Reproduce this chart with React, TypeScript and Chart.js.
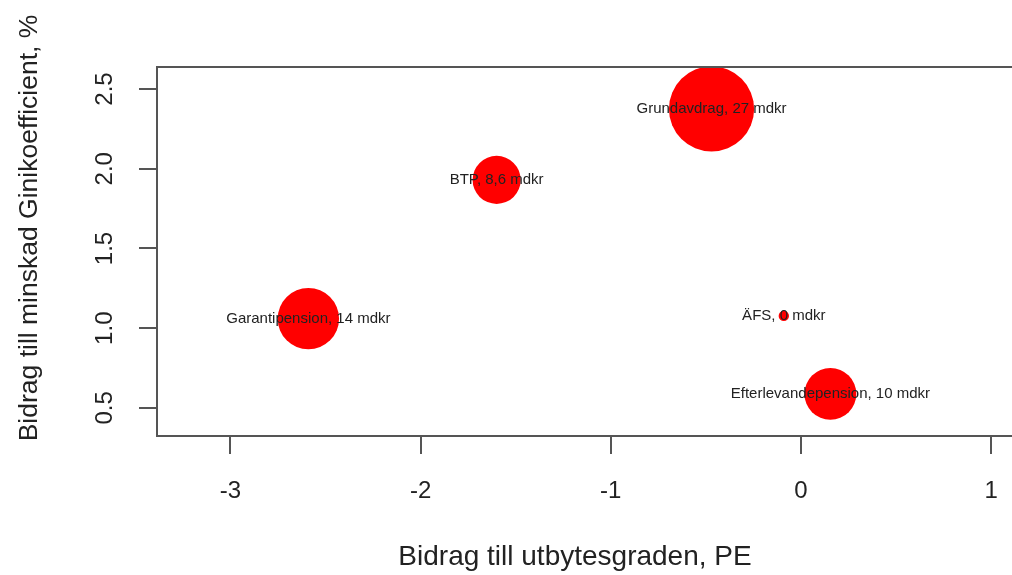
import React, { useEffect, useRef } from "react";
import { Chart, registerables } from "chart.js";

Chart.register(...registerables);

// Data
const programs = [
  "Grundavdrag, 27 mdkr",
  "BTP, 8,6 mdkr",
  "Garantipension, 14 mdkr",
  "ÄFS, 0 mdkr",
  "Efterlevandepension, 10 mdkr",
];
const contributionPE = [-0.47, -1.6, -2.59, -0.09, 0.155];
const contributionGini = [2.375, 1.93, 1.06, 1.077, 0.588];
const costMdkr = [27, 8.6, 14, 0.4, 10];

const xTickValues = [-3, -2, -1, 0, 1];
const yTickValues = [0.5, 1.0, 1.5, 2.0, 2.5];

const xTitle = "Bidrag till utbytesgraden, PE";
const yTitle = "Bidrag till minskad Ginikoefficient, %";

const FONT = "'Liberation Sans', Arial, sans-serif";
const AXIS_COLOR = "#555555";
const TEXT_COLOR = "#222222";

export default function App() {
  const canvasRef = useRef<HTMLCanvasElement | null>(null);

  useEffect(() => {
    const canvas = canvasRef.current;
    if (!canvas) return;

    const overlay = {
      id: "overlay",
      afterDatasetsDraw(chart: any) {
        const ctx = chart.ctx;
        const meta = chart.getDatasetMeta(0);
        ctx.save();
        ctx.font = `15px ${FONT}`;
        ctx.fillStyle = TEXT_COLOR;
        ctx.textAlign = "center";
        ctx.textBaseline = "middle";
        meta.data.forEach((el: any, i: number) => {
          ctx.fillText(programs[i], el.x, el.y);
        });
        const { left, right, top } = chart.chartArea;
        ctx.strokeStyle = AXIS_COLOR;
        ctx.lineWidth = 2;
        ctx.beginPath();
        ctx.moveTo(left - 1, top);
        ctx.lineTo(right, top);
        ctx.stroke();
        ctx.restore();
      },
      afterDraw(chart: any) {
        const ctx = chart.ctx;
        ctx.save();
        ctx.fillStyle = TEXT_COLOR;
        ctx.textAlign = "center";
        ctx.textBaseline = "middle";
        ctx.font = `28px ${FONT}`;
        ctx.fillText(xTitle, 575, 557);
        ctx.translate(30, 228);
        ctx.rotate(-Math.PI / 2);
        ctx.font = `26.5px ${FONT}`;
        ctx.fillText(yTitle, 0, 0);
        ctx.restore();
      },
    };

    const chart = new Chart(canvas, {
      type: "bubble",
      data: {
        datasets: [
          {
            label: "Program",
            data: contributionPE.map((x, i) => ({
              x,
              y: contributionGini[i],
              r: 8.2 * Math.sqrt(costMdkr[i]),
            })),
            backgroundColor: "#ff0000",
            borderWidth: 0,
            hoverBorderWidth: 0,
            clip: false,
          },
        ],
      },
      options: {
        animation: false,
        responsive: false,
        devicePixelRatio: 1,
        layout: { autoPadding: false, padding: { top: 67, left: 0, right: 0, bottom: 0 } },
        plugins: {
          legend: { display: false },
          tooltip: { enabled: false },
          title: { display: false },
        },
        events: [],
        scales: {
          x: {
            type: "linear",
            min: -3.386,
            max: 1.11,
            afterBuildTicks: (scale: any) => {
              scale.ticks = xTickValues.map((v) => ({ value: v }));
            },
            afterFit: (scale: any) => {
              scale.height = 139;
              scale.paddingLeft = 0;
              scale.paddingRight = 0;
            },
            ticks: {
              includeBounds: false,
              autoSkip: false,
              maxRotation: 0,
              minRotation: 0,
              padding: 23,
              color: TEXT_COLOR,
              font: { family: FONT, size: 24 },
              callback: (v: any) => String(v),
            },
            grid: {
              drawOnChartArea: false,
              drawTicks: true,
              tickLength: 18,
              color: AXIS_COLOR,
              lineWidth: 2,
            },
            border: { display: true, color: AXIS_COLOR, width: 2 },
          },
          y: {
            type: "linear",
            min: 0.324,
            max: 2.638,
            afterBuildTicks: (scale: any) => {
              scale.ticks = yTickValues.map((v) => ({ value: v }));
            },
            afterFit: (scale: any) => {
              scale.width = 157;
              scale.paddingTop = 0;
              scale.paddingBottom = 0;
            },
            ticks: {
              includeBounds: false,
              autoSkip: false,
              minRotation: 90,
              maxRotation: 90,
              crossAlign: "center",
              padding: 17,
              color: TEXT_COLOR,
              font: { family: FONT, size: 24 },
              callback: (v: any) => Number(v).toFixed(1),
            },
            grid: {
              drawOnChartArea: false,
              drawTicks: true,
              tickLength: 18,
              color: AXIS_COLOR,
              lineWidth: 2,
            },
            border: { display: true, color: AXIS_COLOR, width: 2 },
          },
        },
      },
      plugins: [overlay],
    });

    return () => chart.destroy();
  }, []);

  return (
    <div
      style={{
        position: "fixed",
        left: 0,
        top: 0,
        width: 1012,
        height: 575,
        background: "#ffffff",
      }}
    >
      <canvas ref={canvasRef} width={1012} height={575} />
    </div>
  );
}
